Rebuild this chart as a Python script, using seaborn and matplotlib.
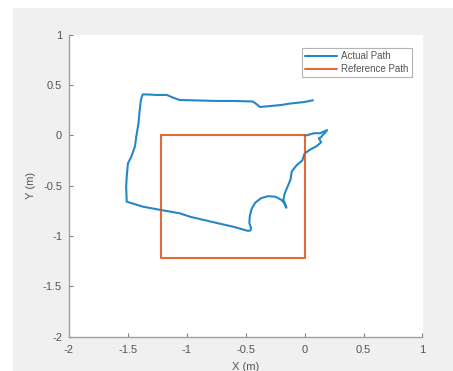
import numpy as np
import pandas as pd
import seaborn as sns
import matplotlib.pyplot as plt
from matplotlib.patches import Rectangle
from matplotlib.ticker import FuncFormatter

# reference square path (m)
ref_x = [-1.22, 0.0, 0.0, -1.22, -1.22]
ref_y = [0.0, 0.0, -1.22, -1.22, 0.0]

act_x = [0.0, 0.02, 0.08, 0.13, 0.19, 0.17, 0.15, 0.14, 0.12, 0.13, 0.14, 0.10,
         0.05, 0.0, -0.02, -0.07, -0.11, -0.12, -0.17, -0.18, -0.155, -0.175,
         -0.20, -0.25, -0.31, -0.37, -0.42, -0.45, -0.465, -0.47, -0.455, -0.46,
         -0.48, -0.60, -0.75, -0.86, -0.97, -1.06, -1.23, -1.37, -1.51,
         -1.515, -1.51, -1.50, -1.47, -1.44, -1.43, -1.41, -1.40, -1.39, -1.375,
         -1.34, -1.26, -1.17, -1.11, -1.06, -0.90, -0.75, -0.60, -0.44, -0.41,
         -0.38, -0.29, -0.20, -0.12, 0.0, 0.07]
act_y = [0.0, 0.00, 0.02, 0.02, 0.05, 0.02, 0.00, -0.02, -0.03, -0.05, -0.07, -0.11,
         -0.14, -0.18, -0.25, -0.30, -0.36, -0.44, -0.58, -0.64, -0.72, -0.67,
         -0.64, -0.61, -0.605, -0.625, -0.67, -0.73, -0.80, -0.87, -0.92, -0.945,
         -0.95, -0.91, -0.87, -0.84, -0.81, -0.775, -0.74, -0.71, -0.66,
         -0.51, -0.41, -0.28, -0.21, -0.11, -0.02, 0.12, 0.25, 0.35, 0.405,
         0.405, 0.40, 0.40, 0.37, 0.35, 0.345, 0.34, 0.34, 0.335, 0.31,
         0.28, 0.29, 0.30, 0.315, 0.33, 0.347]

paths = {"Actual Path": (act_x, act_y), "Reference Path": (ref_x, ref_y)}
colors = {"Actual Path": "#0072BD", "Reference Path": "#D95319"}

sns.set_style("white")
plt.rcParams["font.family"] = ["Liberation Sans", "DejaVu Sans"]

fig = plt.figure(figsize=(4.53, 3.71), dpi=100, facecolor="white")
fig.patches.append(Rectangle((13 / 453, 0), 1, 1 - 8 / 371, transform=fig.transFigure,
                             facecolor="#f0f0f0", edgecolor="none", zorder=-10))
ax = fig.add_axes([69 / 453, 1 - 336.7 / 371, (422.5 - 69) / 453, (336.7 - 34.5) / 371])
ax.set_facecolor("white")

for name, (xs, ys) in paths.items():
    sub = pd.DataFrame({"x": xs, "y": ys})
    sns.lineplot(data=sub, x="x", y="y", sort=False, estimator=None,
                 color=colors[name], linewidth=1.5, ax=ax, label=name, alpha=0.85)

ax.set_xlim(-2, 1)
ax.set_ylim(-2, 1)
ax.set_xticks(np.arange(-2, 1.01, 0.5))
ax.set_yticks(np.arange(-2, 1.01, 0.5))
fmt = FuncFormatter(lambda v, p: "%g" % v)
ax.xaxis.set_major_formatter(fmt)
ax.yaxis.set_major_formatter(fmt)
ax.tick_params(direction="in", length=3, width=0.8, color="#808080",
               labelsize=8, labelcolor="#555555", left=True, bottom=True)
ax.tick_params(axis="x", pad=6)
ax.tick_params(axis="y", pad=5)
for s in ["top", "right"]:
    ax.spines[s].set_visible(False)
for s in ["left", "bottom"]:
    ax.spines[s].set_color("#a0a0a0")
    ax.spines[s].set_linewidth(1.0)

ax.set_xlabel("X (m)", fontsize=8, color="#555555", labelpad=5)
ax.set_ylabel("Y (m)", fontsize=8, color="#555555", labelpad=5)

leg = ax.legend(loc="upper right", fontsize=7, frameon=True, fancybox=False,
                handlelength=3.3, handletextpad=0.4, borderpad=0.3, labelspacing=0.3,
                bbox_to_anchor=(0.983, 0.97))
leg.get_frame().set_edgecolor("#a0a0a0")
leg.get_frame().set_linewidth(0.8)
for t in leg.get_texts():
    t.set_color("#555555")

fig.savefig("out.png", dpi=100, facecolor=fig.get_facecolor())
